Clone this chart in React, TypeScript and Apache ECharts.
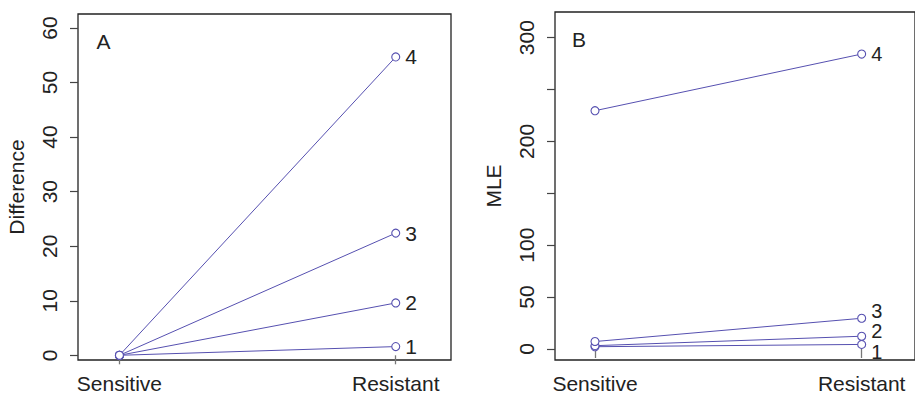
import React, { useEffect, useRef } from "react";
import * as echarts from "echarts";

const categories = ["Sensitive", "Resistant"];
const catPositions = [1, 2];
const lineNames = ["1", "2", "3", "4"];
const diffSensitive = [0, 0, 0, 0];
const diffResistant = [1.6, 9.6, 22.4, 54.7];
const mleSensitive = [2.2, 3.2, 7.2, 229.6];
const mleResistant = [4.4, 12.3, 29.6, 284.2];
const diffTicks = [0, 10, 20, 30, 40, 50, 60];
const mleTicks = [0, 50, 100, 150, 200, 250, 300];
const mleTickLabels = [0, 50, 100, 200, 300];
const panelLetters = ["A", "B"];

const FONT = "'Liberation Sans', Arial, Helvetica, sans-serif";
const FS = 21;
const TEXT = "#222";
const LINE = "#5650b0";

export default function App() {
  const ref = useRef<HTMLDivElement>(null);
  useEffect(() => {
    if (!ref.current) return;
    const chart = echarts.init(ref.current, null, { renderer: "svg" });

    const xAxisBase = (gridIndex: number) => ({
      type: "value",
      gridIndex,
      min: 0.85,
      max: 2.2,
      axisLine: { show: false },
      splitLine: { show: false },
      axisTick: {
        show: true,
        customValues: catPositions,
        length: 9,
        lineStyle: { color: "#777", width: 1.3 },
      },
      axisLabel: {
        show: true,
        customValues: catPositions,
        formatter: (v: number) => categories[Math.round(v) - 1] ?? "",
        fontFamily: FONT,
        fontSize: FS,
        color: TEXT,
        margin: 13,
      },
    });

    const yAxisBase = (
      gridIndex: number,
      min: number,
      max: number,
      ticks: number[],
      labels: number[],
      name: string,
      nameGap: number
    ) => ({
      type: "value",
      gridIndex,
      min,
      max,
      name,
      nameLocation: "middle",
      nameGap,
      nameTextStyle: { fontFamily: FONT, fontSize: FS, color: TEXT },
      axisLine: { show: false },
      splitLine: { show: false },
      axisTick: {
        show: true,
        customValues: ticks,
        length: 8,
        lineStyle: { color: "#444", width: 1.2 },
      },
      axisLabel: {
        show: true,
        customValues: labels,
        rotate: 90,
        fontFamily: FONT,
        fontSize: FS,
        color: TEXT,
        margin: 18,
      },
    });

    const makeSeries = (
      gridIdx: number,
      sens: number[],
      res: number[],
      offsets: number[],
      labelSize: number
    ) =>
      lineNames.map((nm, i) => ({
        type: "line",
        name: nm,
        xAxisIndex: gridIdx,
        yAxisIndex: gridIdx,
        symbol: "circle",
        symbolSize: 8,
        showSymbol: true,
        lineStyle: { color: LINE, width: 1 },
        itemStyle: { color: "#fff", borderColor: LINE, borderWidth: 1.1 },
        emphasis: { disabled: true },
        data: [
          [catPositions[0], sens[i]],
          {
            value: [catPositions[1], res[i]],
            label: {
              show: true,
              position: "right",
              distance: 5,
              offset: [0, offsets[i]],
              formatter: nm,
              fontFamily: FONT,
              fontSize: labelSize,
              lineHeight: 17,
              color: TEXT,
            },
          },
        ],
      }));

    chart.setOption({
      animation: false,
      grid: [
        {
          left: 78,
          top: 14,
          width: 373,
          height: 346,
          show: true,
          borderColor: "#222",
          borderWidth: 1.3,
          backgroundColor: "transparent",
        },
        {
          left: 555,
          top: 12,
          width: 368,
          height: 348,
          show: true,
          borderColor: "#222",
          borderWidth: 1.3,
          backgroundColor: "transparent",
        },
      ],
      xAxis: [xAxisBase(0), xAxisBase(1)],
      yAxis: [
        yAxisBase(0, -0.86, 62.57, diffTicks, diffTicks, "Difference", 51),
        yAxisBase(1, -10.6, 324.7, mleTicks, mleTickLabels, "MLE", 51),
      ],
      graphic: [
        {
          type: "text",
          x: 103.5,
          y: 41,
          style: {
            text: panelLetters[0],
            fontFamily: FONT,
            fontSize: FS,
            fill: TEXT,
            textAlign: "center",
            textVerticalAlign: "middle",
          },
        },
        {
          type: "text",
          x: 579,
          y: 39,
          style: {
            text: panelLetters[1],
            fontFamily: FONT,
            fontSize: FS,
            fill: TEXT,
            textAlign: "center",
            textVerticalAlign: "middle",
          },
        },
      ],
      series: [
        ...makeSeries(0, diffSensitive, diffResistant, [0, 0, 0, 0], FS),
        ...makeSeries(1, mleSensitive, mleResistant, [8, -5, -7, 0], 20),
      ],
    });
    return () => chart.dispose();
  }, []);
  return (
    <div
      ref={ref}
      style={{ position: "fixed", left: 0, top: 0, width: 915, height: 396, background: "#fff" }}
    />
  );
}
